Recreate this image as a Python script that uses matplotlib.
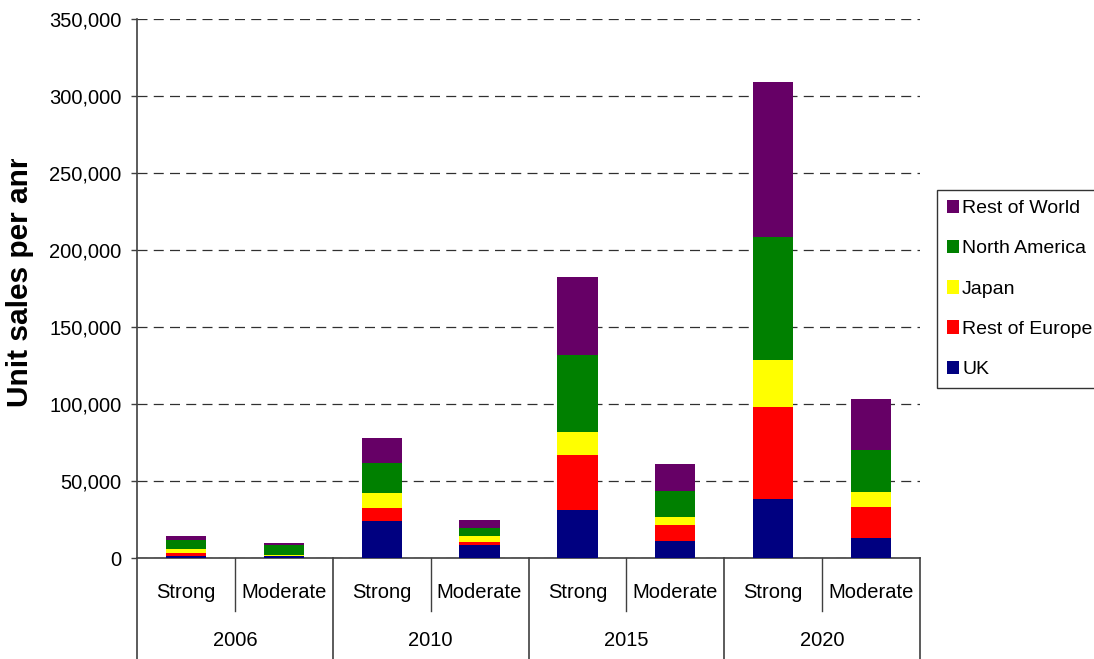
import matplotlib
matplotlib.use("Agg")
import matplotlib.pyplot as plt
from matplotlib.ticker import FuncFormatter
from matplotlib.transforms import blended_transform_factory, Bbox, TransformedBbox
from matplotlib.patches import Patch

plt.rcParams['font.family'] = ['Liberation Sans', 'DejaVu Sans']

years = ["2006", "2010", "2015", "2020"]
scenarios = ["Strong", "Moderate"]
series_names = ["UK", "Rest of Europe", "Japan", "North America", "Rest of World"]
colors = ["#000080", "#FF0000", "#FFFF00", "#008000", "#660066"]

# values in units, order: 2006 S, 2006 M, 2010 S, 2010 M, 2015 S, 2015 M, 2020 S, 2020 M
uk             = [1500, 1300, 23800, 8200, 31200, 10800, 38100, 13000]
rest_of_europe = [1500,  200,  8400, 1900, 35500, 10400, 60000, 19900]
japan          = [2600,  500,  9700, 3900, 14900,  5200, 30400,  9700]
north_america  = [5800, 6200, 20100, 5800, 50000, 16900, 79800, 27400]
rest_of_world  = [2600, 1300, 16200, 5200, 50900, 17500, 100700, 33000]
series = [uk, rest_of_europe, japan, north_america, rest_of_world]

FS = 14.5
W, H = 1094, 659
fig = plt.figure(figsize=(W / 100, H / 100), dpi=100)
ax = fig.add_axes([137 / W, 1 - 558 / H, (920 - 137) / W, (558 - 19) / H])

n = len(uk)
xs = list(range(n))
bottom = [0] * n
for vals, col, name in zip(series, colors, series_names):
    ax.bar(xs, vals, width=0.41, bottom=bottom, color=col, label=name, zorder=3)
    bottom = [bb + v for bb, v in zip(bottom, vals)]

ax.set_xlim(-0.5, n - 0.5)
ax.set_ylim(0, 350000)
ax.set_yticks(range(0, 350001, 50000))
ax.yaxis.set_major_formatter(FuncFormatter(lambda v, p: f"{int(v):,}"))
ax.tick_params(axis='y', labelsize=FS, length=4.5, width=1, color='#404040', pad=6.5)
ax.set_xticks([])
ax.yaxis.grid(True, linestyle=(0, (8, 5)), color='#303030', linewidth=0.9, zorder=0)
ax.set_axisbelow(True)

for s in ['top', 'right']:
    ax.spines[s].set_visible(False)
for s in ['left', 'bottom']:
    ax.spines[s].set_color('#404040')
    ax.spines[s].set_linewidth(1.2)

# category axis (two levels) below the plot
tr = blended_transform_factory(ax.transData, ax.transAxes)
short_bottom = -(611 - 558) / (558 - 19)
long_bottom = -(665 - 558) / (558 - 19)
for i in range(len(years)):
    mid = 2 * i + 0.5
    ax.plot([mid, mid], [0, short_bottom], transform=tr, color='#404040', lw=1, clip_on=False)
for k in range(len(years) + 1):
    xb = 2 * k - 0.5
    ax.plot([xb, xb], [0, long_bottom], transform=tr, color='#404040', lw=1.2, clip_on=False)

lab1_y = -(593 - 558) / (558 - 19)
lab2_y = -(641 - 558) / (558 - 19)
for i, yr in enumerate(years):
    for j, sc in enumerate(scenarios):
        ax.text(2 * i + j, lab1_y, sc, transform=tr, ha='center', va='center', fontsize=FS)
    ax.text(2 * i + 0.5, lab2_y, yr, transform=tr, ha='center', va='center', fontsize=FS)

# y label, clipped at top like the reference
yl = fig.text(28 / W, 1 - 407 / H, "Unit sales per annum", rotation=90, rotation_mode='anchor',
              ha='left', va='baseline', fontsize=21.5, fontweight='bold')
clip = TransformedBbox(Bbox([[0, 1 - 159 / H], [1, 0]]), fig.transFigure)
yl.set_clip_box(clip)
yl.set_clip_on(True)

handles = [Patch(facecolor=c, edgecolor='none') for c in colors][::-1]
labels = series_names[::-1]
leg = fig.legend(handles, labels, loc='upper left', bbox_to_anchor=(937 / W, 1 - 190 / H),
                 bbox_transform=fig.transFigure, borderaxespad=0, frameon=True, fancybox=False,
                 edgecolor='black', fontsize=14, handlelength=0.62, handleheight=0.68,
                 handletextpad=0.17, labelspacing=1.17, borderpad=0.5)
leg.get_frame().set_linewidth(1)

fig.savefig("out.png", dpi=100)
